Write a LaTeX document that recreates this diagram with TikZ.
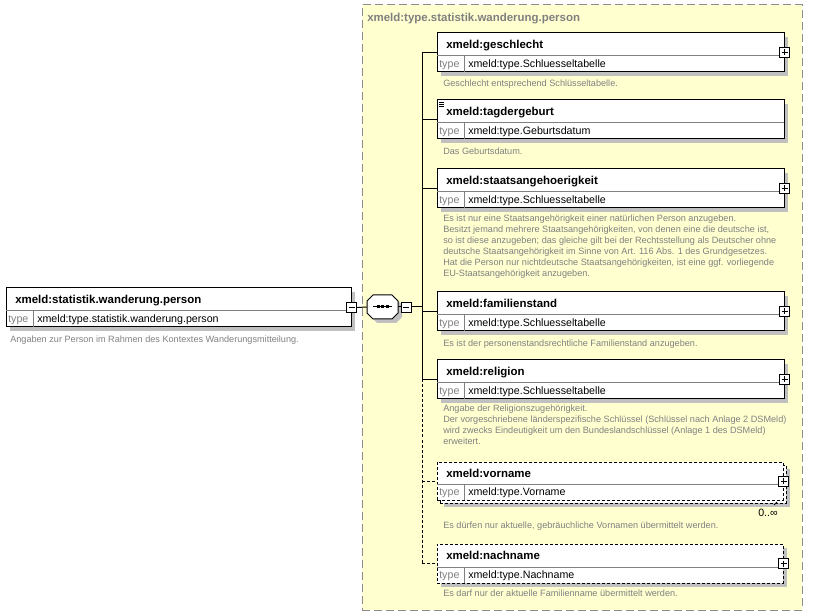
\documentclass[tikz,border=0pt]{standalone}
\usepackage{fontspec}
\setmainfont{Liberation Sans}
\usetikzlibrary{fit}
\definecolor{grpfill}{RGB}{255,255,208}
\definecolor{grpline}{RGB}{140,140,140}
\definecolor{shadowc}{RGB}{192,192,192}
\definecolor{desccol}{RGB}{128,128,128}
\definecolor{divcol}{RGB}{128,128,128}
\tikzset{
 elbox/.style={draw=black, fill=white, line width=0.75pt, inner sep=0pt},
 optbox/.style={dash pattern=on 2.25pt off 1.5pt},
 divline/.style={draw=divcol, line width=0.75pt},
 titletext/.style={font=\fontsize{8.6}{10}\selectfont\bfseries, inner sep=0pt, anchor=base west},
 grptitle/.style={font=\fontsize{8.6}{10}\selectfont\bfseries, text=desccol, inner sep=0pt, anchor=base west},
 typelbl/.style={font=\fontsize{8}{9.6}\selectfont, text=desccol, inner sep=0pt, anchor=base west},
 typetxt/.style={font=\fontsize{8}{9.6}\selectfont, inner sep=0pt, anchor=base west},
 desctext/.style={font=\fontsize{6.85}{8.25}\selectfont, text=desccol, inner sep=0pt, anchor=north west, align=left},
 pmbox/.style={draw=black, fill=white, line width=0.6pt, minimum size=7.5pt, inner sep=0pt},
 minusbox/.style={pmbox, path picture={\draw[line width=0.6pt] ([xshift=1.5pt]path picture bounding box.west) -- ([xshift=-1.5pt]path picture bounding box.east);}},
 plusbox/.style={pmbox, path picture={\draw[line width=0.6pt] ([xshift=1.5pt]path picture bounding box.west) -- ([xshift=-1.5pt]path picture bounding box.east) ([yshift=-1.5pt]path picture bounding box.north) -- ([yshift=1.5pt]path picture bounding box.south);}},
 conn/.style={draw=black, line width=0.75pt},
 optconn/.style={conn, dash pattern=on 2.25pt off 1.5pt},
}
% [style] name x1 y1 x2 y2 title type
\newcommand\xelem[8][]{%
 \node[elbox,#1,fit={(#3,#4)(#5,#6)}] (#2) {};
 \draw[divline] (#3,#6-16) -- (#5,#6-16);
 \draw[divline] (#3+27,#6-16) -- (#3+27,#6);
 \node[titletext] (#2-title) at (#3+9,#4+15.5) {#7};
 \node[typelbl] (#2-tl) at (#3+2,#6-4.5) {type};
 \node[typetxt] (#2-type) at (#3+31,#6-4.5) {#8};
}
\newcommand\xshadow[4]{\fill[shadowc] (#1+4,#2+4) rectangle (#3+4,#4+4);}
\newcommand\xocta[2]{(#1-15.5,#2-6) -- (#1-9.5,#2-12) -- (#1+9.5,#2-12) -- (#1+15.5,#2-6) -- (#1+15.5,#2+6) -- (#1+9.5,#2+12) -- (#1-9.5,#2+12) -- (#1-15.5,#2+6) -- cycle}
\begin{document}
\begin{tikzpicture}[x=0.75pt,y=-0.75pt]
\useasboundingbox (0,0) rectangle (821,616);
% group box
\node[fit={(362,5)(802,610)}, draw=grpline, fill=grpfill, dash pattern=on 6pt off 3pt, line width=0.75pt, inner sep=0pt] (grp) {};
\node[grptitle] (grp-title) at (367,22) {xmeld:type.statistik.wanderung.person};
% shadows
\xshadow{6}{288}{351}{327}
\xshadow{437}{33}{784}{72}
\xshadow{437}{100}{784}{139}
\xshadow{437}{169}{784}{208}
\xshadow{437}{292}{784}{331}
\xshadow{437}{360}{784}{399}
\xshadow{440}{465}{786}{503}
\xshadow{437}{544}{783}{583}
% root element
\xelem{root}{6}{288}{351}{327}{xmeld:statistik.wanderung.person}{xmeld:type.statistik.wanderung.person}
\node[desctext] (root-desc) at (10,335.5) {Angaben zur Person im Rahmen des Kontextes Wanderungsmitteilung.};
\node[minusbox] (root-pm) at (root.east) {};
% sequence compositor
\fill[shadowc] \xocta{386.5}{311};
\filldraw[fill=white, draw=black, line width=0.75pt] \xocta{382.5}{307};
\node[inner sep=0pt, minimum width=23.25pt, minimum height=18pt] (seq) at (382.5,307) {};
\draw[line width=0.75pt] (373,307) -- (392,307);
\foreach \dx in {378,382.5,387} \fill (\dx-1.5,305.5) rectangle (\dx+1.5,308.5);
\node[minusbox] (seq-pm) at (406,307) {};
\draw[conn] (root-pm.east) -- (seq.west);
\draw[conn] (seq.east) -- (seq-pm.west);
\coordinate (trunk) at (422,307);
\draw[conn] (seq-pm.east) -- (trunk);
% children
\xelem{gesch}{437}{33}{784}{72}{xmeld:geschlecht}{xmeld:type.Schluesseltabelle}
\node[desctext] (gesch-desc) at (443,79.5) {Geschlecht entsprechend Schlüsseltabelle.};
\xelem{tag}{437}{100}{784}{139}{xmeld:tagdergeburt}{xmeld:type.Geburtsdatum}
\draw[line width=0.5pt] (439,102.5) -- (444,102.5) (439,104.5) -- (444,104.5) (439,106.5) -- (444,106.5);
\node[desctext] (tag-desc) at (443,147.5) {Das Geburtsdatum.};
\xelem{staat}{437}{169}{784}{208}{xmeld:staatsangehoerigkeit}{xmeld:type.Schluesseltabelle}
\node[desctext] (staat-desc) at (443,214.5) {Es ist nur eine Staatsangehörigkeit einer natürlichen Person anzugeben.\\Besitzt jemand mehrere Staatsangehörigkeiten, von denen eine die deutsche ist,\\so ist diese anzugeben; das gleiche gilt bei der Rechtsstellung als Deutscher ohne\\deutsche Staatsangehörigkeit im Sinne von Art. 116 Abs. 1 des Grundgesetzes.\\Hat die Person nur nichtdeutsche Staatsangehörigkeiten, ist eine ggf. vorliegende\\EU-Staatsangehörigkeit anzugeben.};
\xelem{fam}{437}{292}{784}{331}{xmeld:familienstand}{xmeld:type.Schluesseltabelle}
\node[desctext] (fam-desc) at (443,339.5) {Es ist der personenstandsrechtliche Familienstand anzugeben.};
\xelem{rel}{437}{360}{784}{399}{xmeld:religion}{xmeld:type.Schluesseltabelle}
\node[desctext] (rel-desc) at (443,404.5) {Angabe der Religionszugehörigkeit.\\Der vorgeschriebene länderspezifische Schlüssel (Schlüssel nach Anlage 2 DSMeld)\\wird zwecks Eindeutigkeit um den Bundeslandschlüssel (Anlage 1 des DSMeld)\\erweitert.};
% vorname (repeated)
\node[elbox, optbox, fit={(440,465)(786,503)}] (vor-back) {};
\xelem[optbox]{vor}{437}{462}{783}{500}{xmeld:vorname}{xmeld:type.Vorname}
\draw[line width=0.6pt] (774,505) -- (777,502);
\node[typetxt] (vor-mult) at (758,516.5) {0..∞};
\node[desctext] (vor-desc) at (443,521.5) {Es dürfen nur aktuelle, gebräuchliche Vornamen übermittelt werden.};
% nachname
\xelem[optbox]{nach}{437}{544}{783}{583}{xmeld:nachname}{xmeld:type.Nachname}
\node[desctext] (nach-desc) at (443,589.5) {Es darf nur der aktuelle Familienname übermittelt werden.};
% plus boxes
\foreach \n in {gesch,staat,fam,rel,vor,nach} \node[plusbox] (\n-pm) at (\n.east) {};
% connectors
\draw[conn] (trunk |- gesch.west) -- (trunk |- rel.west);
\draw[optconn] (trunk |- rel.west) -- (trunk |- nach.west);
\foreach \n in {gesch,tag,staat,fam,rel} \draw[conn] (trunk |- \n.west) -- (\n.west);
\foreach \n in {vor,nach} \draw[optconn] (trunk |- \n.west) -- (\n.west);
\end{tikzpicture}
\end{document}
